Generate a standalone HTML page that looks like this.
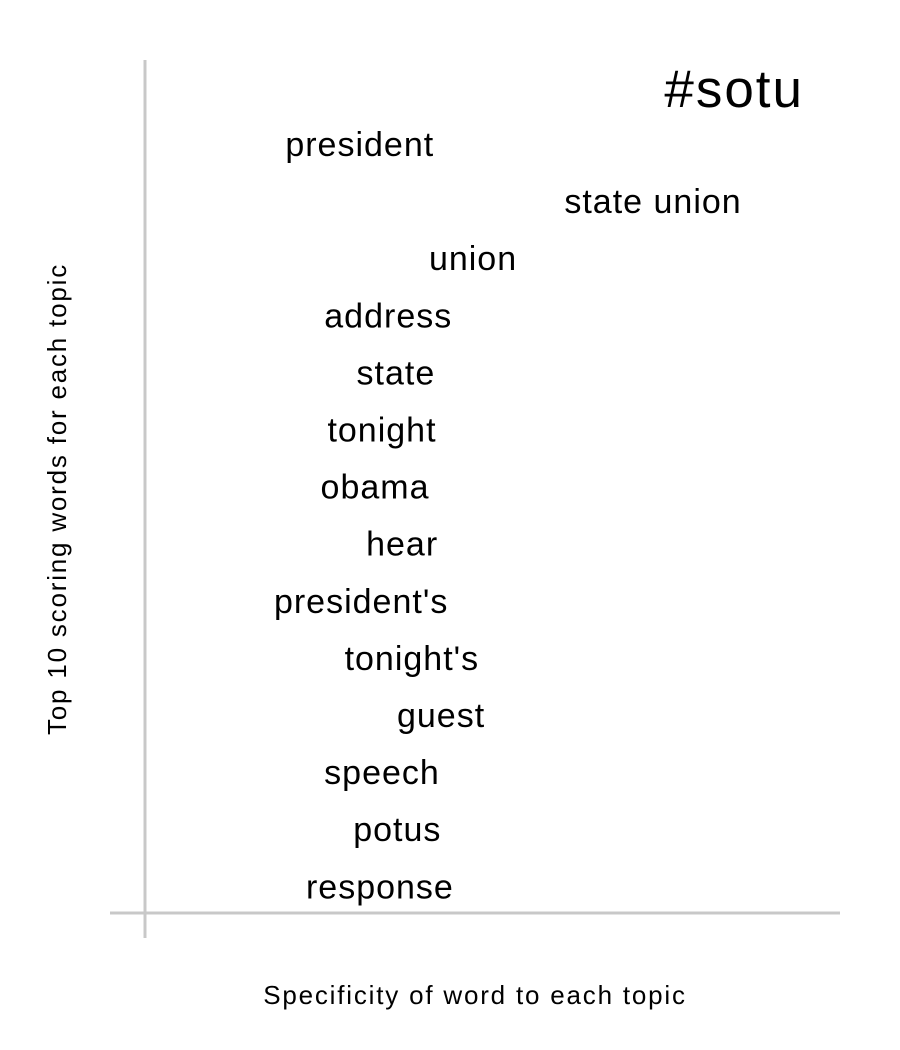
<!DOCTYPE html>
<html>
<head>
<meta charset="utf-8">
<style>
  html, body { margin: 0; padding: 0; background: #fff; }
  svg { display: block; font-family: "Liberation Sans", Arial, sans-serif; }
</style>
</head>
<body>
<svg id="chart" width="900" height="1050" viewBox="0 0 900 1050">
  <line x1="145" y1="60" x2="145" y2="938" stroke="#c8c8c8" stroke-width="3"/>
  <line x1="110" y1="913" x2="840" y2="913" stroke="#c8c8c8" stroke-width="3"/>
  <text x="804" y="107" font-size="53" letter-spacing="2" text-anchor="end" fill="#000">#sotu</text>
  <text x="475" y="1004" font-size="26" letter-spacing="1.8" text-anchor="middle" fill="#000">Specificity of word to each topic</text>
  <text transform="translate(66,499) rotate(-90)" font-size="26" letter-spacing="1.8" text-anchor="middle" fill="#000">Top 10 scoring words for each topic</text>
  <g id="words"></g>
</svg>
<script>
const words = ["president","state union","union","address","state","tonight","obama","hear","president's","tonight's","guest","speech","potus","response"];
const specificity = [0.309,0.731,0.472,0.350,0.361,0.341,0.331,0.370,0.311,0.384,0.426,0.341,0.363,0.338];
const ranks = [0,1,2,3,4,5,6,7,8,9,10,11,12,13];

function xScale(v) { return 145 + v * 695; }
function yScale(r) { return 145 + r * 57.1; }

const g = document.getElementById('words');
const NS = 'http://www.w3.org/2000/svg';
words.forEach(function (w, i) {
  const t = document.createElementNS(NS, 'text');
  t.setAttribute('x', xScale(specificity[i]));
  t.setAttribute('y', yScale(ranks[i]) + 11);
  t.setAttribute('font-size', '34');
  t.setAttribute('letter-spacing', '1');
  t.setAttribute('text-anchor', 'middle');
  t.setAttribute('fill', '#000');
  t.textContent = w;
  
  
  g.appendChild(t);
});
</script>
</body>
</html>
